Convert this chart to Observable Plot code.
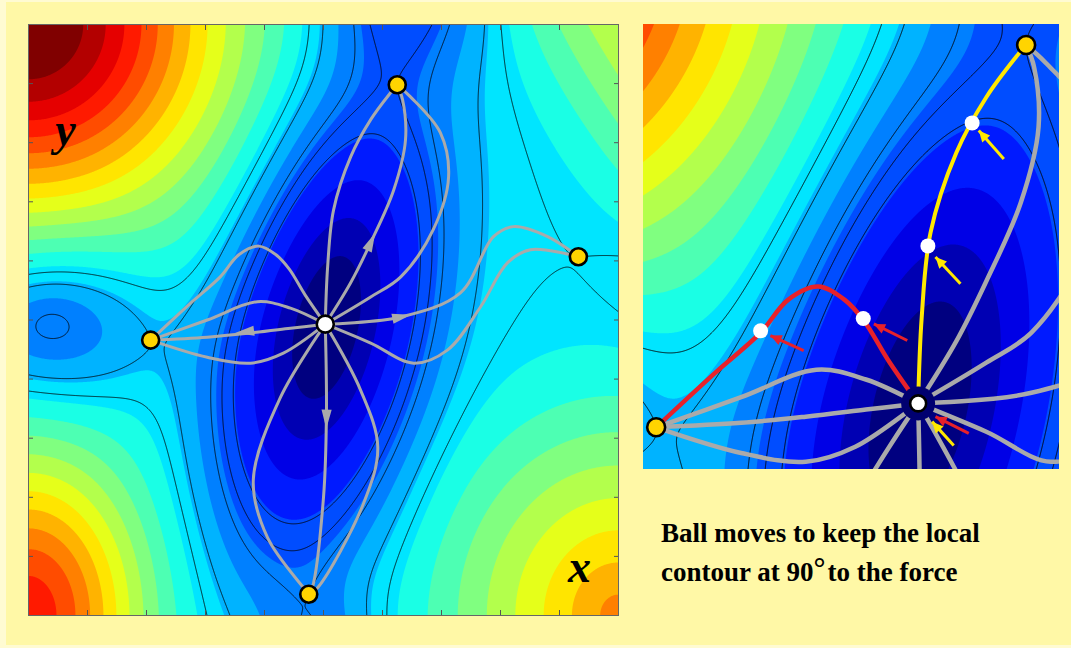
<!DOCTYPE html>
<html><head><meta charset="utf-8">
<script src="https://cdn.jsdelivr.net/npm/d3@7"></script>
<script src="https://cdn.jsdelivr.net/npm/@observablehq/plot@0.6"></script>
<style>
html,body{margin:0;padding:0;}
body{width:1071px;height:648px;background:#fffbd2;position:relative;overflow:hidden;}
#bg{position:absolute;left:6px;top:2px;width:1065px;height:643px;background:#fff8a6;}
#left{position:absolute;left:28px;top:24px;}
#right{position:absolute;left:643px;top:24px;}
#caption{position:absolute;left:661px;top:515px;font-family:"Liberation Serif",serif;font-weight:bold;font-size:27px;line-height:37px;color:#000;white-space:nowrap;}
#caption .deg{font-size:30px;position:relative;top:-3px;margin-right:2px;}
svg{overflow:visible}
</style></head><body>
<div id="bg"></div>
<div id="left"></div>
<div id="right"></div>
<div id="caption">Ball moves to keep the local<br>contour at 90<span class="deg">°</span>to the force</div>
<script>
// ---------------- data (panel units: x 0–10 left→right, y 0–10 bottom→top) ----------------
const plateau = 7.6;

// Gaussian hills
const hillX = [0, 0];
const hillY = [10, 0];
const hillHeight = [13.5, 10];
const hillSx = [2.25, 1.35];
const hillSy = [2.25, 1.9];

// softplus cones: negative slope = basin, positive slope = rising ground
const coneX = [5.05, 6.35, 4.95, 12.0, 0.37, 10, 27.2];
const coneY = [4.93, 11.3, -0.85, 5.85, 4.97, 0, 20.2];
const coneAngle = [78, 0, 0, 0, 0, 0, 0];
const coneSa = [2.0, 0.8, 0.8, 1, 1.1, 1.1, 1];
const coneSb = [0.85, 1.0, 1.0, 1, 0.9, 1.25, 1];
const coneReach = [2.9, 2.6, 1.6, 1.9, 2.06, 3.5, 22.0];
const coneSlope = [-3.0, -1.9, -1.6, -1.2, -2.2, 2.3, 2.2];
const coneSoft = [0.35, 0.4, 0.3, 0.4, 0.4, 0.4, 0.3];
const coneTip = [0.25, 0.3, 0.3, 0.3, 0.3, 0, 0];

const bandLevels = d3.range(1, 21);          // filled contour thresholds
const tickValues = [1, 2, 3, 4, 5, 6, 7, 8, 9];

// stationary points
const minimumX = [5.03], minimumY = [4.93];
const saddleName = ["T", "R", "L", "B"];
const saddleX = [6.25, 9.32, 2.07, 4.75];
const saddleY = [8.98, 6.07, 4.66, 0.36];

// minimum-energy paths (centre → saddle)
const pathT1 = [[5.03,4.93],[5.07,5.9],[5.17,6.86],[5.46,7.76],[5.8,8.39],[6.14,8.85],[6.25,8.98]];
const pathT2 = [[5.03,4.93],[5.46,5.63],[5.8,6.31],[6.19,7.2],[6.39,8.05],[6.34,8.73],[6.25,8.98]];
const pathT3 = [[5.03,4.93],[5.8,5.39],[6.31,5.73],[6.86,6.53],[7.12,7.42],[6.98,8.17],[6.47,8.78],[6.25,8.98]];
const pathR1 = [[5.03,4.93],[6.31,5.05],[7.32,5.46],[7.88,6.41],[8.22,6.58],[8.8,6.41],[9.32,6.07]];
const pathR2 = [[5.03,4.93],[5.8,4.61],[6.53,4.27],[7.1,4.49],[7.66,5.22],[8.12,5.97],[8.51,6.19],[9.32,6.07]];
const pathL1 = [[5.03,4.93],[4.69,5.42],[4.42,5.86],[4.2,6.1],[3.9,6.25],[3.56,6.1],[3.25,5.73],[2.73,5.27],[2.07,4.66]];
const pathL2 = [[5.03,4.93],[4.44,5.2],[3.88,5.31],[3.03,5.0],[2.07,4.66]];
const pathL3 = [[5.03,4.93],[4.44,4.86],[3.76,4.78],[3.03,4.71],[2.07,4.66]];
const pathL4 = [[5.03,4.93],[4.32,4.44],[3.76,4.27],[3.03,4.37],[2.07,4.66]];
const pathB1 = [[5.03,4.93],[4.27,3.69],[3.81,2.29],[4.05,1.32],[4.66,0.47],[4.75,0.36]];
const pathB2 = [[5.03,4.93],[5.05,3.42],[5.0,2.0],[4.81,0.47],[4.75,0.36]];
const pathB3 = [[5.03,4.93],[5.63,3.81],[5.92,2.85],[5.68,1.9],[4.9,0.47],[4.75,0.36]];

// arrowheads on the grey paths
const arrowX = [5.8, 3.68, 6.31, 5.05];
const arrowY = [6.31, 4.8, 5.05, 3.34];
const arrowAngle = [25, -97, 78, 181];

// zoomed panel window
const zoomX = [1.927, 6.627];
const zoomY = [4.183, 9.212];
// ball positions along the red and yellow paths
const redBallX = [3.25, 4.41], redBallY = [5.75, 5.89];
const yellowBallX = [5.14, 5.64], yellowBallY = [6.71, 8.10];
// force arrows (tail → tip)
const redArrowX1 = [3.737, 4.907, 5.602], redArrowY1 = [5.527, 5.641, 4.592];
const redArrowX2 = [3.361, 4.53, 5.226],  redArrowY2 = [5.697, 5.828, 4.78];
const yelArrowX1 = [5.508, 5.998, 5.432], yelArrowY1 = [6.283, 7.693, 4.454];
const yelArrowX2 = [5.226, 5.715, 5.188], yelArrowY2 = [6.585, 8.014, 4.724];

// ---------------- model ----------------
function energy(x, y) {
  let v = plateau;
  for (let i = 0; i < hillX.length; i++) {
    const dx = (x - hillX[i]) / hillSx[i], dy = (y - hillY[i]) / hillSy[i];
    v += hillHeight[i] * Math.exp(-0.5 * (dx * dx + dy * dy));
  }
  for (let i = 0; i < coneX.length; i++) {
    const t = coneAngle[i] * Math.PI / 180, c = Math.cos(t), s = Math.sin(t);
    const dx = x - coneX[i], dy = y - coneY[i];
    const a = (dx * c + dy * s) / coneSa[i], b = (-dx * s + dy * c) / coneSb[i];
    const r = Math.sqrt(a * a + b * b + coneTip[i] * coneTip[i]);
    const z = (coneReach[i] - r) / coneSoft[i];
    const sp = z > 30 ? z : Math.log1p(Math.exp(z));
    v += coneSlope[i] * coneSoft[i] * sp;
  }
  return v;
}

function jet(t) {
  const cl = v => Math.max(0, Math.min(1, v));
  const r = cl(1.5 - Math.abs(4 * t - 3)), g = cl(1.5 - Math.abs(4 * t - 2)), b = cl(1.5 - Math.abs(4 * t - 1));
  return d3.rgb(r * 255, g * 255, b * 255).formatHex();
}
const bandColors = d3.range(0, 21).map(i => jet(i / 20));

const saddleLevels = saddleX.map((x, i) => energy(x, saddleY[i]));
const lineLevels = [saddleLevels[0] - 0.6, ...saddleLevels];

const pathSets = {T1: pathT1, T2: pathT2, T3: pathT3, R1: pathR1, R2: pathR2, L1: pathL1, L2: pathL2, L3: pathL3, L4: pathL4, B1: pathB1, B2: pathB2, B3: pathB3};
const pathRows = Object.entries(pathSets).flatMap(([id, pts]) => pts.map(([x, y]) => ({id, x, y})));
const greyRowsZoom = pathRows.filter(d => d.id !== "T1" && d.id !== "L1");
const saddles = saddleX.map((x, i) => ({name: saddleName[i], x, y: saddleY[i]}));
const minima = minimumX.map((x, i) => ({x, y: minimumY[i]}));
const arrows = arrowX.map((x, i) => ({x, y: arrowY[i], a: arrowAngle[i]}));
const redBalls = redBallX.map((x, i) => ({x, y: redBallY[i]}));
const yellowBalls = yellowBallX.map((x, i) => ({x, y: yellowBallY[i]}));
const dirDeg = (x1, y1, x2, y2) => Math.atan2(x2 - x1, y2 - y1) * 180 / Math.PI;
const redArrows = redArrowX1.map((x1, i) => ({x1, y1: redArrowY1[i], x2: redArrowX2[i], y2: redArrowY2[i], a: dirDeg(x1, redArrowY1[i], redArrowX2[i], redArrowY2[i])}));
const yelArrows = yelArrowX1.map((x1, i) => ({x1, y1: yelArrowY1[i], x2: yelArrowX2[i], y2: yelArrowY2[i], a: dirDeg(x1, yelArrowY1[i], yelArrowX2[i], yelArrowY2[i])}));

// symbols
const headSymbol = {draw(ctx, size) { const l = Math.sqrt(size / Math.PI); ctx.moveTo(0, -1.25 * l); ctx.lineTo(0.6 * l, 1.0 * l); ctx.lineTo(-0.6 * l, 1.0 * l); ctx.closePath(); }};
const tipSymbol = {draw(ctx, size) { const l = Math.sqrt(size / Math.PI); ctx.moveTo(0, 0); ctx.lineTo(0.75 * l, 1.6 * l); ctx.lineTo(-0.75 * l, 1.6 * l); ctx.closePath(); }};

const colorScale = {type: "threshold", domain: bandLevels, range: bandColors};

// ---------------- left panel ----------------
const pad = 0.3;
const tickAxis = (axis, anchor) => axis({anchor, ticks: tickValues, tickSize: -5, tickFormat: () => "", label: null, stroke: "#555"});
const left = Plot.plot({
  width: 590, height: 591, margin: 0,
  style: {background: "transparent", overflow: "visible"},
  x: {domain: [0, 10], axis: null},
  y: {domain: [0, 10], axis: null},
  color: colorScale,
  marks: [
    Plot.contour({fill: energy, x1: -pad, y1: -pad, x2: 10 + pad, y2: 10 + pad, thresholds: [-100, ...bandLevels], stroke: "none", pixelSize: 1, clip: true}),
    Plot.contour({value: energy, x1: -pad, y1: -pad, x2: 10 + pad, y2: 10 + pad, thresholds: lineLevels, stroke: "black", strokeWidth: 0.8, fill: "none", pixelSize: 1, clip: true}),
    Plot.line(pathRows, {x: "x", y: "y", z: "id", curve: "catmull-rom", stroke: "#aaaaaa", strokeWidth: 3}),
    Plot.dot(arrows, {x: "x", y: "y", rotate: "a", symbol: headSymbol, r: 8.5, fill: "#aaaaaa", stroke: "none"}),
    Plot.dot(saddles, {x: "x", y: "y", r: 8.5, fill: "#ffd400", stroke: "black", strokeWidth: 2.6}),
    Plot.dot(minima, {x: "x", y: "y", r: 8.5, fill: "white", stroke: "black", strokeWidth: 2.6}),
    Plot.text(["y"], {frameAnchor: "top-left", dx: 37, dy: 106, textAnchor: "middle", lineAnchor: "middle", fontSize: 46, fontWeight: "bold", fontStyle: "italic", fontFamily: "Liberation Serif", fill: "black"}),
    Plot.text(["x"], {frameAnchor: "top-left", dx: 551, dy: 543, textAnchor: "middle", lineAnchor: "middle", fontSize: 46, fontWeight: "bold", fontStyle: "italic", fontFamily: "Liberation Serif", fill: "black"}),
    tickAxis(Plot.axisX, "bottom"),
    tickAxis(Plot.axisX, "top"),
    tickAxis(Plot.axisY, "left"),
    tickAxis(Plot.axisY, "right"),
    Plot.frame({stroke: "#666", strokeWidth: 1})
  ]
});
document.getElementById("left").append(left);

// ---------------- zoomed panel ----------------
const right = Plot.plot({
  width: 416, height: 445, margin: 0,
  style: {background: "transparent", overflow: "visible"},
  x: {domain: zoomX, axis: null},
  y: {domain: zoomY, axis: null},
  color: colorScale,
  marks: [
    Plot.contour({fill: energy, x1: zoomX[0] - pad, y1: zoomY[0] - pad, x2: zoomX[1] + pad, y2: zoomY[1] + pad, thresholds: [-100, ...bandLevels], stroke: "none", pixelSize: 1, clip: true}),
    Plot.contour({value: energy, x1: zoomX[0] - pad, y1: zoomY[0] - pad, x2: zoomX[1] + pad, y2: zoomY[1] + pad, thresholds: lineLevels, stroke: "black", strokeWidth: 0.9, fill: "none", pixelSize: 1, clip: true}),
    Plot.line(greyRowsZoom, {x: "x", y: "y", z: "id", curve: "catmull-rom", stroke: "#aaaaaa", strokeWidth: 4.5, clip: true}),
    Plot.line(pathL1.map(([x, y]) => ({x, y})), {x: "x", y: "y", curve: "catmull-rom", stroke: "#e8212a", strokeWidth: 4.5, clip: true}),
    Plot.line(pathT1.map(([x, y]) => ({x, y})), {x: "x", y: "y", curve: "catmull-rom", stroke: "#ffe800", strokeWidth: 4, clip: true}),
    Plot.dot(minima, {x: "x", y: "y", r: 17, fill: "#000070", stroke: "none"}),
    Plot.dot(minima, {x: "x", y: "y", r: 8, fill: "white", stroke: "black", strokeWidth: 2.6}),
    Plot.dot(saddles, {x: "x", y: "y", r: 9, fill: "#ffd400", stroke: "black", strokeWidth: 2.6, clip: true}),
    Plot.dot(redBalls, {x: "x", y: "y", r: 7.5, fill: "white"}),
    Plot.dot(yellowBalls, {x: "x", y: "y", r: 7.5, fill: "white"}),
    Plot.link(redArrows, {x1: "x1", y1: "y1", x2: "x2", y2: "y2", stroke: "#e8212a", strokeWidth: 3}),
    Plot.dot(redArrows, {x: "x2", y: "y2", rotate: "a", symbol: tipSymbol, r: 7, fill: "#e8212a"}),
    Plot.link(yelArrows, {x1: "x1", y1: "y1", x2: "x2", y2: "y2", stroke: "#ffe800", strokeWidth: 3}),
    Plot.dot(yelArrows, {x: "x2", y: "y2", rotate: "a", symbol: tipSymbol, r: 7, fill: "#ffe800"})
  ]
});
document.getElementById("right").append(right);
</script>
</body></html>
